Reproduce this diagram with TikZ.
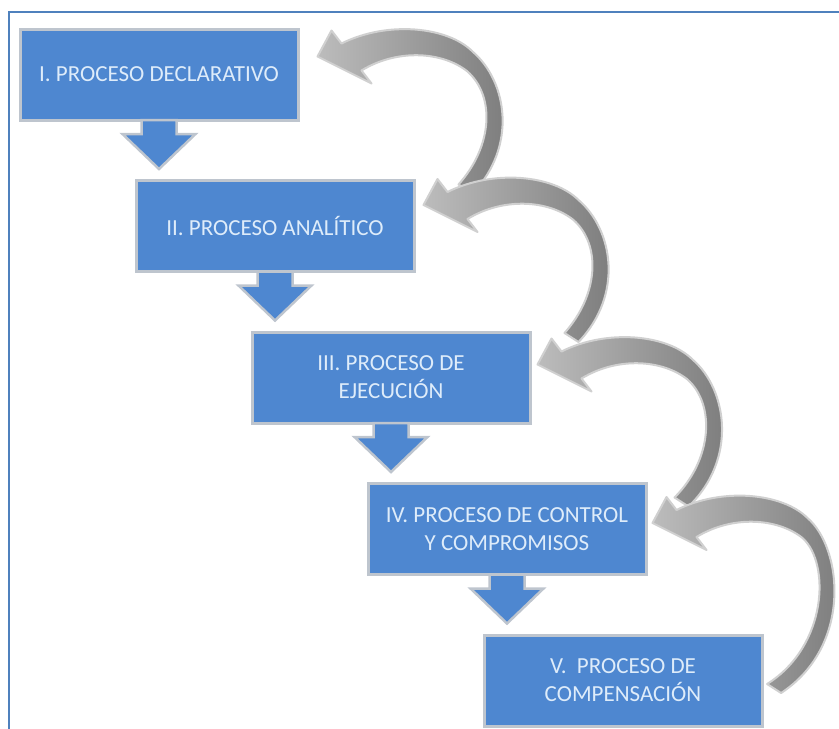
\documentclass[tikz,border=0pt]{standalone}
\usepackage{fontspec}
\setmainfont{Carlito}
\usetikzlibrary{positioning,calc}
\definecolor{boxblue}{RGB}{78,135,208}
\definecolor{boxedge}{RGB}{190,197,206}
\definecolor{boxtext}{RGB}{222,236,250}
\definecolor{frameblue}{RGB}{79,129,189}
\definecolor{backlight}{RGB}{188,188,188}
\definecolor{backdark}{RGB}{122,122,122}
\definecolor{backedge}{RGB}{208,208,208}
\tikzset{
  tail drop/.store in=\taildrop, tail drop=0,
  backarrow/.pic={
    \path[left color=backlight, right color=backdark, draw=backedge, line width=2pt, line join=round]
      (0,0) -- (14,-26) -- (24,-13)
      .. controls (70,-36) and (130,-30) .. (155,-5)
      .. controls (190,25) and (200,{90+\taildrop}) .. ({155-0.8*\taildrop},{137+\taildrop})
      -- ({141-0.8*\taildrop},{128+\taildrop})
      .. controls (175,{90+\taildrop}) and (178,40) .. (150,15)
      .. controls (125,-5) and (80,-8) .. (44,14)
      -- (54,27) -- cycle;
  }
}
\begin{document}
\begin{tikzpicture}[x=1pt, y=-1pt,
  stepbox/.style={draw=boxedge, line width=3pt, fill=boxblue, text=boxtext,
    minimum width=278pt, minimum height=91pt, align=center,
    font=\fontsize{23}{28}\selectfont},
  downarrow/.style={draw=boxedge, line width=2.5pt, fill=boxblue, line join=miter}]
  \useasboundingbox (0,0) rectangle (839,729);
  \draw[frameblue, line width=2.5pt] (839,12) -- (9,12) -- (9,729);
  \node (b1) [stepbox] at (159,74.5) {I. PROCESO DECLARATIVO};
  \node (b2) [stepbox, below=57.5pt of b1, xshift=116pt] {II. PROCESO ANALÍTICO};
  \node (b3) [stepbox, below=57.5pt of b2, xshift=116pt] {III. PROCESO DE\\EJECUCIÓN};
  \node (b4) [stepbox, below=57.5pt of b3, xshift=116pt] {IV. PROCESO DE CONTROL\\Y COMPROMISOS};
  \node (b5) [stepbox, below=57.5pt of b4, xshift=116pt] {V.\ \ PROCESO DE\\COMPENSACIÓN};
  \foreach \a/\b in {b1/b2, b2/b3, b3/b4, b4/b5}
    \draw[downarrow] ($(\a.south)+(-17.5,-1.5)$) -- ++(0,14) -- ++(-19,0)
      -- ($(\a.south |- \b.north)+(0,-10)$) -- ($(\a.south)+(36.5,12.5)$)
      -- ++(-19,0) -- ++(0,-14) -- cycle;
  \foreach \b/\dx/\dy/\dd in {b1/18/-18/0, b2/8/-21/0, b3/6/-13/5, b4/5/-6/33}
    \pic[tail drop=\dd] at ($(\b.east)+(\dx,\dy)$) {backarrow};
\end{tikzpicture}
\end{document}
